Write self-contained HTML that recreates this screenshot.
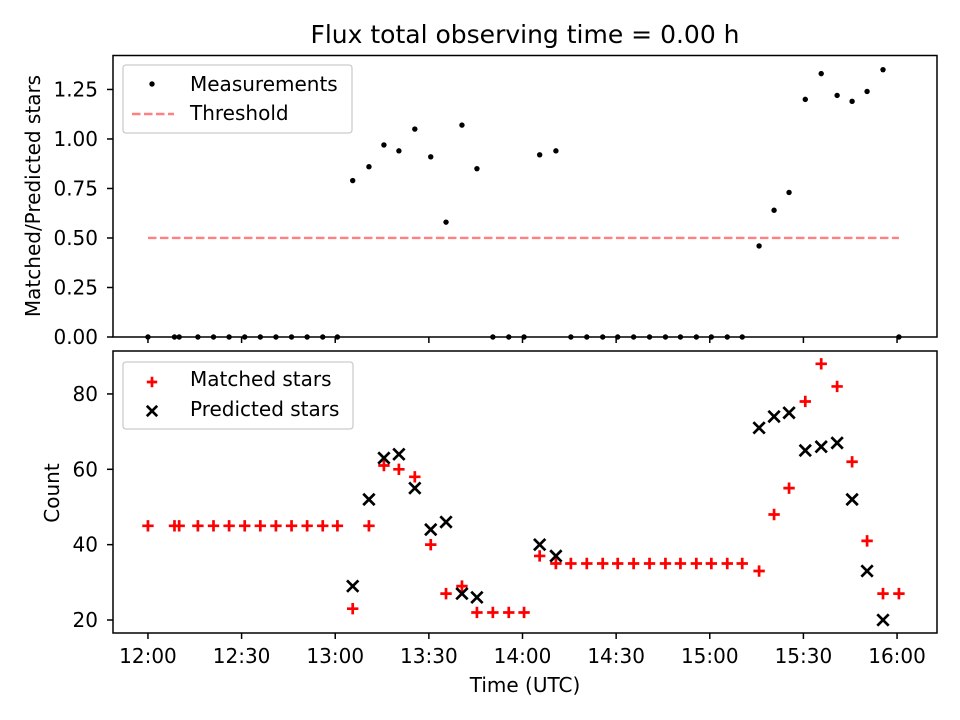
<!DOCTYPE html>
<html><head><meta charset="utf-8"><style>
html,body{margin:0;padding:0;background:#fff;}
svg{display:block;font-family:"DejaVu Sans","Liberation Sans",sans-serif;}
</style></head><body>
<svg id="chart" width="960" height="720" viewBox="0 0 960 720" xmlns="http://www.w3.org/2000/svg"></svg>
<script>
// minutes after 12:00
const times = [0,8.5,10,16,21,26,31,36,41,46,51,56,60.7,65.6,70.8,75.6,80.4,85.5,90.6,95.5,100.6,105.4,110.5,115.6,120.5,125.5,130.7,135.5,140.6,145.7,150.5,155.6,160.7,165.8,170.6,175.7,180.5,185.6,190.4,195.8,200.6,205.4,210.6,215.7,220.8,225.6,230.4,235.5,240.6];
const ratio = [0,0,0,0,0,0,0,0,0,0,0,0,0,0.79,0.86,0.97,0.94,1.05,0.91,0.58,1.07,0.85,0,0,0,0.92,0.94,0,0,0,0,0,0,0,0,0,0,0,0,0.46,0.64,0.73,1.20,1.33,1.22,1.19,1.24,1.35,0];
const matched = [45,45,45,45,45,45,45,45,45,45,45,45,45,23,45,61,60,58,40,27,29,22,22,22,22,37,35,35,35,35,35,35,35,35,35,35,35,35,35,33,48,55,78,88,82,62,41,27,27];
const predicted = [null,null,null,null,null,null,null,null,null,null,null,null,null,29,52,63,64,55,44,46,27,26,null,null,null,40,37,null,null,null,null,null,null,null,null,null,null,null,null,71,74,75,65,66,67,52,33,20,null];
const threshold = 0.5;
const xTickVals = [0,30,60,90,120,150,180,210,240];
const xTickLabels = ["12:00","12:30","13:00","13:30","14:00","14:30","15:00","15:30","16:00"];
const topTicks = [0,0.25,0.5,0.75,1.0,1.25];
const topTickLabels = ["0.00","0.25","0.50","0.75","1.00","1.25"];
const botTicks = [20,40,60,80];
const botTickLabels = ["20","40","60","80"];

const svg = document.getElementById('chart');
const NS = 'http://www.w3.org/2000/svg';
function mk(tag, attrs, parent){const e=document.createElementNS(NS,tag);for(const k in attrs)e.setAttribute(k,attrs[k]);(parent||svg).appendChild(e);return e;}
const FS=20;
const L=113,R=937;
const xMin=-11.2,xMax=252.8;
const X=t=>L+(t-xMin)/(xMax-xMin)*(R-L);
const T={top:55.5,bot:337,min:0,max:1.4215};
const B={top:351,bot:633,min:16.55,max:91.4};
const Yt=v=>T.bot-(v-T.min)/(T.max-T.min)*(T.bot-T.top);
const Yb=v=>B.bot-(v-B.min)/(B.max-B.min)*(B.bot-B.top);

let ti=mk('text',{x:525,y:43,'text-anchor':'middle','font-size':25,fill:'#000'});
ti.textContent='Flux total observing time = 0.00 h';



const gTop=mk('g',{});


let th=mk('line',{x1:X(times[0]),x2:X(times[times.length-1]),y1:Yt(threshold),y2:Yt(threshold),stroke:'#ff8080','stroke-width':2.4,'stroke-dasharray':'8.5,3.5'},gTop);


times.forEach((t,i)=>{
  const c=mk('circle',{cx:X(t),cy:Yt(ratio[i]),r:2.7,fill:'#000'},gTop);
  
  
});

const gBot=mk('g',{});


function plus(x,y,p,col,s){s=s||5.7;mk('path',{d:`M${x-s},${y}H${x+s}M${x},${y-s}V${y+s}`,stroke:col,'stroke-width':2.7,fill:'none'},p);}
function cross(x,y,p,col,s){s=s||5.7;mk('path',{d:`M${x-s},${y-s}L${x+s},${y+s}M${x-s},${y+s}L${x+s},${y-s}`,stroke:col,'stroke-width':2.7,fill:'none'},p);}
times.forEach((t,i)=>{
  const g=mk('g',{},gBot);
  
  
  plus(X(t),Yb(matched[i]),g,'#ff0000');
});
times.forEach((t,i)=>{
  if(predicted[i]==null)return;
  const g=mk('g',{},gBot);
  
  
  cross(X(t),Yb(predicted[i]),g,'#000');
});

[[T,'top'],[B,'bottom']].forEach(([A,n])=>{
  const f=mk('rect',{x:L,y:A.top,width:R-L,height:A.bot-A.top,fill:'none',stroke:'#000','stroke-width':1.5});
  
  
  xTickVals.forEach((v,i)=>{
    mk('line',{x1:X(v),x2:X(v),y1:A.bot,y2:A.bot+6,stroke:'#000','stroke-width':1.5});
    if(n==='bottom'){
      const tx=mk('text',{x:X(v),y:A.bot+30,'text-anchor':'middle','font-size':FS,fill:'#000'});
      tx.textContent=xTickLabels[i];
      
      
    }
  });
});
topTicks.forEach((v,i)=>{
  mk('line',{x1:L-6,x2:L,y1:Yt(v),y2:Yt(v),stroke:'#000','stroke-width':1.5});
  const tx=mk('text',{x:L-15,y:Yt(v)+7,'text-anchor':'end','font-size':FS,fill:'#000'});
  tx.textContent=topTickLabels[i];
  
  
});
botTicks.forEach((v,i)=>{
  mk('line',{x1:L-6,x2:L,y1:Yb(v),y2:Yb(v),stroke:'#000','stroke-width':1.5});
  const tx=mk('text',{x:L-15,y:Yb(v)+7,'text-anchor':'end','font-size':FS,fill:'#000'});
  tx.textContent=botTickLabels[i];
  
  
});
let yl=mk('text',{x:0,y:0,transform:'translate(40,196) rotate(-90)','text-anchor':'middle','font-size':FS,fill:'#000'});
yl.textContent='Matched/Predicted stars';


let yl2=mk('text',{x:0,y:0,transform:'translate(59,493) rotate(-90)','text-anchor':'middle','font-size':FS,fill:'#000'});
yl2.textContent='Count';


let xl=mk('text',{x:525,y:692,'text-anchor':'middle','font-size':FS,fill:'#000'});
xl.textContent='Time (UTC)';



const lg1=mk('g',{});


mk('rect',{x:123,y:65,width:229,height:68,rx:3,fill:'#fff','fill-opacity':0.8,stroke:'#ccc','stroke-width':1.3},lg1);
mk('circle',{cx:152,cy:84,r:2.7,fill:'#000'},lg1);
let t1=mk('text',{x:190,y:91,'font-size':FS,fill:'#000'},lg1);t1.textContent='Measurements';
mk('line',{x1:132,x2:174,y1:114,y2:114,stroke:'#ff8080','stroke-width':2.4,'stroke-dasharray':'8.5,3.5'},lg1);
let t2=mk('text',{x:190,y:120,'font-size':FS,fill:'#000'},lg1);t2.textContent='Threshold';

const lg2=mk('g',{});


mk('rect',{x:123,y:362,width:230,height:67,rx:3,fill:'#fff','fill-opacity':0.8,stroke:'#ccc','stroke-width':1.3},lg2);
plus(152,382,lg2,'#ff0000',5.2);
let t3=mk('text',{x:190,y:386,'font-size':FS,fill:'#000'},lg2);t3.textContent='Matched stars';
cross(152,411,lg2,'#000',5.2);
let t4=mk('text',{x:190,y:416,'font-size':FS,fill:'#000'},lg2);t4.textContent='Predicted stars';
</script>
</body></html>
